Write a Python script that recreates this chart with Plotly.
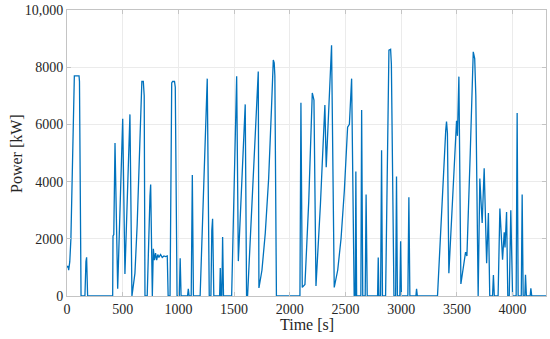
import plotly.graph_objects as go

time_s = [0, 10, 15, 25, 35, 47, 58, 66, 108, 112, 126, 161, 170, 176, 185,
          410, 413, 420, 431, 455, 500, 520, 565, 583, 590, 610, 630, 650, 665, 672, 685, 693, 700,
          720, 745, 751, 766, 775, 785, 795, 805, 815, 825, 840, 855, 870, 885, 900, 908,
          925, 940, 948, 965, 972, 988, 1008, 1016, 1024, 1082, 1089, 1096, 1115, 1125, 1135,
          1195, 1259, 1277, 1292, 1300, 1307, 1318, 1370, 1376, 1382, 1390, 1397, 1405,
          1478, 1523, 1538, 1600, 1612, 1621, 1687, 1717, 1723, 1750, 1780, 1810, 1835,
          1846, 1852, 1860, 1866, 1880, 2091, 2100, 2112, 2136, 2170, 2202, 2217, 2235,
          2275, 2315, 2327, 2375, 2399, 2430, 2460, 2490, 2519, 2535, 2555, 2578, 2588,
          2593, 2600, 2638, 2645, 2655, 2677, 2685, 2695, 2788, 2794, 2800, 2815, 2824,
          2832, 2860, 2890, 2905, 2912, 2935, 2950, 2958, 2966, 2988, 2995, 3002, 3060,
          3069, 3078, 3132, 3138, 3145, 3326, 3400, 3407, 3415, 3428, 3497, 3505, 3518,
          3536, 3578, 3590, 3620, 3640, 3647, 3660, 3670, 3691, 3706, 3727, 3745, 3767,
          3783, 3795, 3820, 3828, 3836, 3870, 3886, 3910, 3925, 3932, 3946, 3957, 3970,
          3984, 4000, 4032, 4041, 4050, 4078, 4086, 4095, 4110, 4116, 4124, 4158, 4164,
          4172, 4300]

power_kw = [1000, 1050, 900, 1200, 2000, 4800, 7150, 7700, 7700, 7500, 0, 0, 1200, 1350, 0,
            0, 2100, 2150, 5350, 250, 6200, 770, 6350, 0, 200, 800, 2500, 5000, 7000, 7500, 7500, 7000, 0,
            0, 3500, 3900, 0, 1650, 1250, 1500, 1250, 1450, 1350, 1450, 1350, 1400, 1380, 1400, 0,
            0, 7450, 7500, 7500, 7300, 0, 0, 1320, 0, 0, 250, 0, 0, 4230, 0,
            0, 7600, 0, 0, 2300, 2700, 0, 0, 980, 0, 0, 2060, 0,
            0, 7680, 1220, 6700, 0, 0, 5200, 7850, 280, 900, 2200, 4100, 6500,
            8150, 8250, 8150, 7700, 0, 0, 6760, 300, 400, 3300, 7100, 6850, 350,
            3200, 6680, 4500, 8770, 300, 900, 2000, 3700, 5900, 6000, 7600, 0, 0,
            4350, 0, 0, 6500, 0, 0, 3550, 0, 0, 1350, 0, 0, 5100,
            0, 0, 8600, 8630, 8100, 0, 0, 4180, 0, 0, 1910, 0, 0,
            3450, 0, 0, 250, 0, 0, 5800, 6100, 5700, 800, 6130, 5600, 7670,
            420, 1535, 1395, 5000, 8300, 8540, 8300, 7000, 0, 4110, 2550, 4470, 1150,
            2900, 0, 0, 730, 0, 0, 3060, 1270, 2230, 1700, 2940, 0, 0,
            3000, 0, 0, 6400, 0, 0, 3550, 0, 0, 740, 0, 0, 270,
            0, 0]

x_ticks = [0, 500, 1000, 1500, 2000, 2500, 3000, 3500, 4000]
y_ticks = [0, 2000, 4000, 6000, 8000, 10000]
y_tick_labels = ["0", "2000", "4000", "6000", "8000", "10,000"]

FONT = "Liberation Serif"
TXT = "#262626"
FRAME = "#c4c4c4"

fig = go.Figure()
fig.add_trace(go.Scatter(x=time_s, y=power_kw, mode="lines",
                         line=dict(color="#0072BD", width=1.3), showlegend=False))

tickfont = dict(family="Times New Roman", size=14, color=TXT)
fig.update_layout(
    width=550, height=339,
    margin=dict(l=67, r=4, t=10, b=43),
    paper_bgcolor="white", plot_bgcolor="white",
    font=dict(family=FONT, size=14, color=TXT),
    xaxis=dict(range=[0, 4300], tickvals=x_ticks, ticktext=[str(v) for v in x_ticks],
               showgrid=True, gridcolor="#ebebeb",
               gridwidth=1, zeroline=False, showline=True, linecolor=FRAME, linewidth=1,
               mirror="ticks", ticks="inside", ticklen=4, tickcolor=FRAME,
               tickfont=tickfont),
    yaxis=dict(range=[0, 10000], tickvals=y_ticks, ticktext=y_tick_labels, showgrid=True,
               gridcolor="#ebebeb", gridwidth=1, zeroline=False, showline=True,
               linecolor=FRAME, linewidth=1, mirror="ticks", ticks="inside", ticklen=4,
               tickcolor=FRAME, tickfont=tickfont),
    annotations=[
        dict(text="Time [s]", xref="paper", yref="paper", x=0.5, y=-0.101,
             xanchor="center", yanchor="middle", showarrow=False,
             font=dict(family=FONT, size=16, color=TXT)),
        dict(text="Power [kW]", xref="paper", yref="paper", x=-0.1065, y=0.5,
             xanchor="center", yanchor="middle", textangle=-90, showarrow=False,
             font=dict(family=FONT, size=16, color=TXT)),
    ],
)

fig.write_html("out.html", config={"displayModeBar": False},
               post_script="document.body.style.margin='0';document.body.style.padding='0';")
